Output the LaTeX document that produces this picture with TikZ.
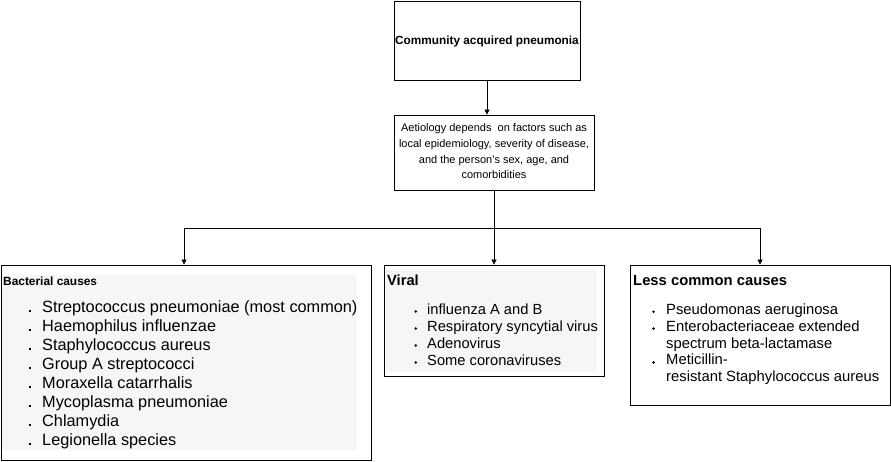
\documentclass[tikz,border=0pt]{standalone}
\usepackage{fontspec}
\setmainfont{Liberation Sans}
\usetikzlibrary{arrows.meta}
\definecolor{bgg}{RGB}{246,246,246}
\begin{document}
\begin{tikzpicture}[x=1pt,y=-1pt,
  box/.style={draw,line width=0.8pt,inner sep=0pt},
  conn/.style={line width=0.7pt,-{Triangle[length=5pt,width=5pt]}},
  line/.style={line width=0.7pt},
  txt/.style={inner sep=0pt,anchor=base west,align=left},
  bul/.style={circle,fill=black,inner sep=0pt,minimum size=2.8pt}]
\useasboundingbox (0,0) rectangle (891,462);
% boxes
\node[box,minimum width=186pt,minimum height=79pt] (top) at (487,40.5) {};
\node[font=\bfseries\fontsize{11.8}{14}\selectfont,inner sep=0pt,anchor=base] (toptxt) at (487,44.5) {Community acquired pneumonia};
\node[box,minimum width=200pt,minimum height=75pt] (aet) at (494,152.5) {};
\node[font=\fontsize{11}{15.7}\selectfont,align=center,inner sep=0pt] (aettxt) at (494,151.5)
 {Aetiology depends\ \ on factors such as\\local epidemiology, severity of disease,\\and the person’s sex, age, and\\comorbidities};
\node[box,minimum width=370pt,minimum height=195pt] (bac) at (186,362.5) {};
\fill[bgg] (2,275) rectangle (357,450);
\node[box,minimum width=220pt,minimum height=111pt] (vir) at (494,320.5) {};
\fill[bgg] (386,270) rectangle (597,372);
\node[box,minimum width=260pt,minimum height=140pt] (les) at (760,335) {};
% connectors
\draw[conn] (top.south) -- (top.south |- aet.north);
\coordinate (j) at (494,228);
\coordinate (jl) at (184,228);
\coordinate (jr) at (760,228);
\draw[line] (aet.south) -- (j);
\draw[line] (jl) -- (jr);
\draw[conn] (jl) -- (jl |- bac.north);
\draw[conn] (j) -- (vir.north);
\draw[conn] (jr) -- (les.north);
% bacterial text
\node[txt,font=\bfseries\fontsize{11.9}{14}\selectfont] (bh) at (3,285.7) {Bacterial causes};
\foreach \t [count=\i] in {Streptococcus pneumoniae (most common),Haemophilus influenzae,Staphylococcus aureus,Group A streptococci,Moraxella catarrhalis,Mycoplasma pneumoniae,Chlamydia,Legionella species}{
  \node[txt,font=\fontsize{16.3}{19}\selectfont] (b\i) at (42,312.7+\i*19-19) {\t};
  \fill (29.3,310.2+\i*19-19) rectangle +(2,2);
}
% viral text
\node[txt,font=\bfseries\fontsize{14.7}{17}\selectfont] (vh) at (387,286) {Viral};
\foreach \t [count=\i] in {influenza A and B,Respiratory syncytial virus,Adenovirus,Some coronaviruses}{
  \node[txt,font=\fontsize{14.7}{17}\selectfont] (v\i) at (427,314+\i*17-17) {\t};
  \node[bul] (vb\i) at (415.7,311.5+\i*17-17) {};
}
% less common text
\node[txt,font=\bfseries\fontsize{14.8}{17}\selectfont] (lh) at (633,285.5) {Less common causes};
\foreach \t [count=\i] in {Pseudomonas aeruginosa,Enterobacteriaceae extended,spectrum beta-lactamase,Meticillin-,resistant Staphylococcus aureus}{
  \node[txt,font=\fontsize{14.8}{17}\selectfont] (l\i) at (666,314.2+\i*16.9-16.9) {\t};
}
\node[bul] (lb1) at (653.5,311.7) {};
\node[bul] (lb2) at (653.5,328.6) {};
\node[bul] (lb3) at (653.5,362.4) {};
\end{tikzpicture}
\end{document}
